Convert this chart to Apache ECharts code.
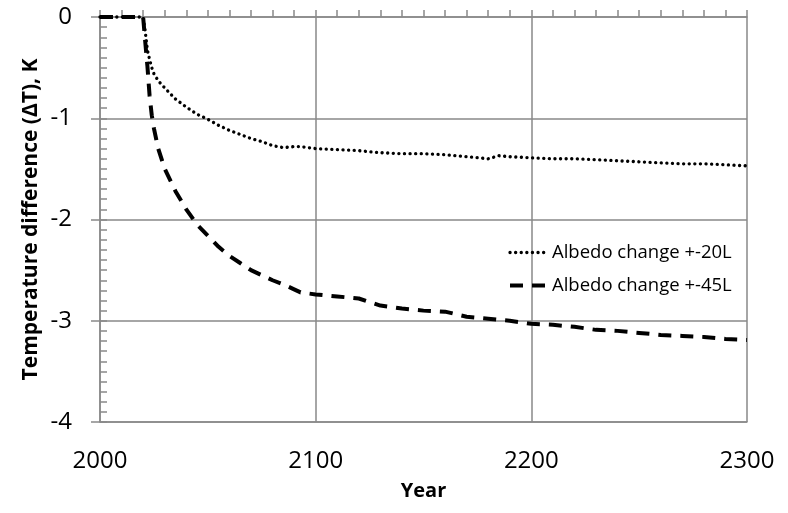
<!DOCTYPE html>
<html>
<head>
<meta charset="utf-8">
<script src="https://cdn.jsdelivr.net/npm/echarts@6/dist/echarts.min.js"></script>
<style>
  html, body { margin: 0; padding: 0; background: #fff; }
  #chart { width: 788px; height: 513px; }
</style>
</head>
<body>
<div id="chart"></div>
<script>
// years sampled along both curves
const years = [2000, 2010, 2020, 2021, 2022, 2023, 2024, 2025, 2027, 2030, 2035, 2040, 2045, 2050, 2055, 2060, 2065, 2070, 2075, 2080, 2085, 2090, 2093, 2100, 2110, 2120, 2130, 2140, 2150, 2160, 2170, 2180, 2185, 2190, 2200, 2210, 2220, 2230, 2240, 2250, 2260, 2270, 2280, 2290, 2300];
const albedo20 = [0, 0, 0, -0.15, -0.33, -0.42, -0.5, -0.56, -0.63, -0.7, -0.81, -0.89, -0.96, -1.01, -1.07, -1.12, -1.16, -1.2, -1.23, -1.27, -1.29, -1.28, -1.28, -1.3, -1.31, -1.32, -1.34, -1.35, -1.35, -1.36, -1.38, -1.4, -1.37, -1.38, -1.39, -1.4, -1.4, -1.41, -1.42, -1.43, -1.44, -1.45, -1.45, -1.46, -1.47];
const albedo45 = [0, 0, 0, -0.25, -0.49, -0.78, -0.97, -1.1, -1.3, -1.5, -1.72, -1.9, -2.05, -2.16, -2.27, -2.36, -2.43, -2.5, -2.55, -2.6, -2.64, -2.69, -2.72, -2.74, -2.76, -2.78, -2.85, -2.88, -2.9, -2.91, -2.96, -2.98, -2.99, -3.0, -3.03, -3.04, -3.06, -3.09, -3.1, -3.12, -3.14, -3.15, -3.16, -3.18, -3.19];
const seriesNames = ["Albedo change +-20L", "Albedo change +-45L"];

const GRAY = "#898989";
const FONT = "Open Sans";
const DOTTED = { width: 3.3, type: [0.1, 5.5], cap: "round" };
const DASHED = { width: 4, type: [13, 9], cap: "butt" };

const chart = echarts.init(document.getElementById("chart"), null, { renderer: "canvas" });

const pairs = (vals) => years.map((y, i) => [y, vals[i]]);

chart.setOption({
  animation: false,
  backgroundColor: "#fff",
  grid: { left: 100, right: 41, top: 17, bottom: 91, containLabel: false, outerBoundsMode: "none" },
  legend: {
    orient: "vertical",
    left: 508,
    top: 243,
    padding: 0,
    itemWidth: 37,
    itemHeight: 14,
    itemGap: 14,
    textStyle: { fontFamily: FONT, fontSize: 18.5, color: "#000" },
    data: [
      { name: seriesNames[0], itemStyle: { opacity: 0 }, lineStyle: { color: "#000", ...DOTTED } },
      { name: seriesNames[1], itemStyle: { opacity: 0 }, lineStyle: { color: "#000", ...DASHED } },
    ],
  },
  xAxis: [
    {
      type: "value",
      position: "bottom",
      min: 2000,
      max: 2300,
      interval: 100,
      name: "Year",
      nameLocation: "middle",
      nameGap: 59,
      nameMoveOverlap: false,
      nameTextStyle: { fontFamily: FONT, fontSize: 20, fontWeight: "bold", color: "#000" },
      axisLine: { show: true, onZero: false, lineStyle: { color: GRAY, width: 1.5 } },
      axisTick: { show: false },
      axisLabel: { fontFamily: FONT, fontSize: 24, color: "#000", margin: 27, formatter: (v) => String(v) },
      splitLine: { show: true, lineStyle: { color: GRAY, width: 1.5 } },
    },
    {
      type: "value",
      position: "top",
      min: 2000,
      max: 2300,
      interval: 100,
      axisLine: { show: true, onZero: false, lineStyle: { color: GRAY, width: 1.5 } },
      axisTick: { show: true, length: 7, lineStyle: { color: GRAY, width: 1.5 } },
      minorTick: { show: true, splitNumber: 10, length: 7, lineStyle: { color: GRAY, width: 1.5 } },
      axisLabel: { show: false },
      splitLine: { show: false },
    },
  ],
  yAxis: [
    {
      type: "value",
      position: "left",
      min: -4,
      max: 0,
      interval: 1,
      name: "Temperature difference (ΔT), K",
      nameLocation: "middle",
      nameRotate: 90,
      nameGap: 58,
      nameMoveOverlap: false,
      nameTextStyle: { fontFamily: FONT, fontSize: 21, fontWeight: "bold", color: "#000" },
      axisLine: { show: true, onZero: false, lineStyle: { color: GRAY, width: 1.5 } },
      axisTick: { show: true, length: 9, lineStyle: { color: GRAY, width: 1.5 } },
      axisLabel: { fontFamily: FONT, fontSize: 24, color: "#000", margin: 28 },
      splitLine: { show: true, lineStyle: { color: GRAY, width: 1.5 } },
    },
    {
      // inner minor ticks on the left axis
      type: "value",
      position: "left",
      min: -4,
      max: 0,
      interval: 1,
      axisLine: { show: false, onZero: false },
      axisTick: { show: true, inside: true, length: 7, lineStyle: { color: GRAY, width: 1.5 } },
      minorTick: { show: true, splitNumber: 10, length: 7, lineStyle: { color: GRAY, width: 1.5 } },
      axisLabel: { show: false },
      splitLine: { show: false },
    },
  ],
  series: [
    {
      name: seriesNames[0],
      type: "line",
      xAxisIndex: 0,
      yAxisIndex: 0,
      data: pairs(albedo20),
      showSymbol: false,
      symbol: "none",
      clip: false,
      itemStyle: { color: "#000" },
      lineStyle: { color: "#000", ...DOTTED },
    },
    {
      name: seriesNames[1],
      type: "line",
      xAxisIndex: 0,
      yAxisIndex: 0,
      data: pairs(albedo45),
      showSymbol: false,
      symbol: "none",
      clip: false,
      itemStyle: { color: "#000" },
      lineStyle: { color: "#000", ...DASHED },
    },
  ],
});
</script>
</body>
</html>
